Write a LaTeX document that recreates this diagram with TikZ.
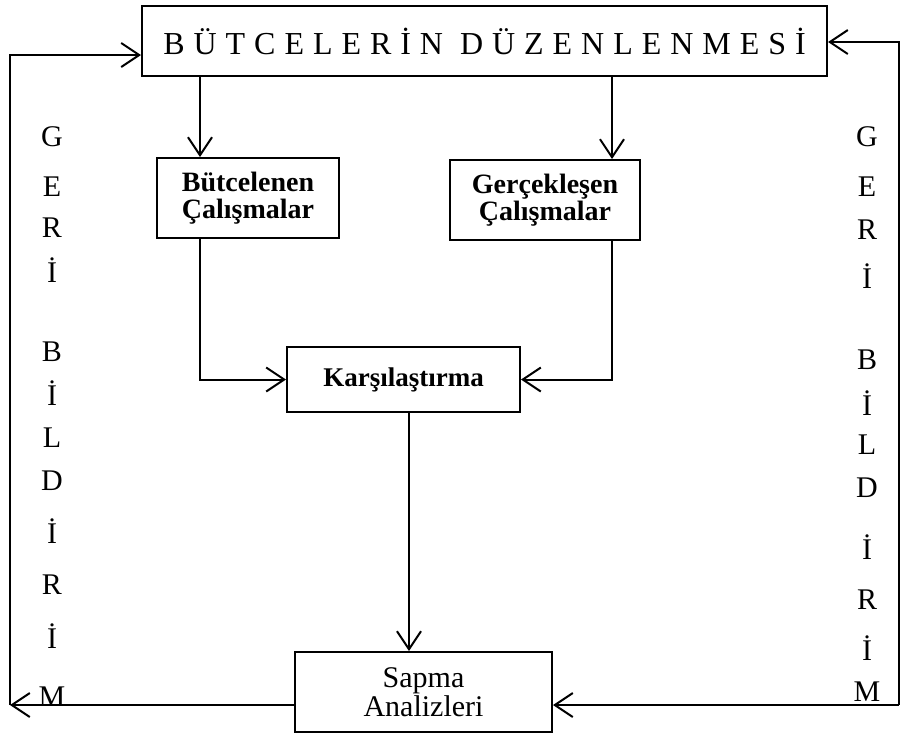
\documentclass[tikz,border=0pt]{standalone}
\usepackage{fontspec}
\setmainfont{Liberation Serif}
\usetikzlibrary{arrows.meta}

\tikzset{
  box/.style={draw, line width=1pt, inner sep=0pt, align=center},
  arr/.style={line width=1pt, -{Straight Barb[length=9pt,width=12pt,line width=1pt]}},
  link/.style={line width=1pt},
  letter/.style={font=\fontsize{15}{18}\selectfont, inner sep=0pt},
}

\begin{document}
\begin{tikzpicture}[x=0.5pt,y=-0.5pt]
\def\leftX{10}
\def\rightX{899}
\def\loopY{705}
    \useasboundingbox (0,0) rectangle (903,740);

    %Boxes
    \node[box, minimum width=342.5pt, minimum height=35pt,
          font=\fontsize{16}{16}\selectfont\addfontfeature{LetterSpace=28}]
          (plan) at (484.5,41) {BÜTCELERİN DÜZENLENMESİ};
    \node[box, minimum width=91pt, minimum height=40pt,
          font=\fontsize{14}{13.5}\selectfont\bfseries]
          (budget) at (248,198) {Bütcelenen\\Çalışmalar};
    \node[box, minimum width=95pt, minimum height=40pt,
          font=\fontsize{14}{13.5}\selectfont\bfseries]
          (actual) at (545,200) {Gerçekleşen\\Çalışmalar};
    \node[box, minimum width=116.5pt, minimum height=32.5pt,
          font=\fontsize{13.5}{14}\selectfont\bfseries]
          (compare) at (403.5,379.5) {Karşılaştırma};
    \node[box, minimum width=128.5pt, minimum height=40pt,
          font=\fontsize{15}{14.5}\selectfont]
          (variance) at (423.5,692) {Sapma\\Analizleri};

    \coordinate (xb) at (200,0);
    \coordinate (xa) at (612,0);
    \coordinate (xc) at (409,0);
    \coordinate (BL) at (\leftX,\loopY);
    \coordinate (TL) at (\leftX,55);
    \coordinate (BR) at (\rightX,\loopY);
    \coordinate (TR) at (\rightX,42);

    %Connectors
    \draw[arr] (plan.south -| xb) -- (budget.north -| xb);
    \draw[arr] (plan.south -| xa) -- (actual.north -| xa);
    \draw[arr] (budget.south -| xb) |- (compare.west);
    \draw[arr] (actual.south -| xa) |- (compare.east);
    \draw[arr] (compare.south -| xc) -- (variance.north -| xc);

    %Feedback
    \draw[arr] (variance.west |- BL) -- (BL);
    \draw[arr] (BL) -- (TL) -- (plan.west |- TL);
    \draw[arr] (BR) -- (variance.east |- BR);
    \draw[arr] (BR) -- (TR) -- (plan.east |- TR);

    %Labels
    \foreach \ch/\y [count=\i] in {G/137, E/187, R/228, İ/270, B/352, İ/393,
                                   L/438, D/481, İ/531, R/585, İ/636, M/697}
      \node[letter] (gl\i) at (52,\y) {\ch};
    \foreach \ch/\y [count=\i] in {G/137, E/187, R/230, İ/276, B/360, İ/403,
                                   L/445, D/488, İ/547, R/600, İ/648, M/692}
      \node[letter] (gr\i) at (867,\y) {\ch};
\end{tikzpicture}
\end{document}
